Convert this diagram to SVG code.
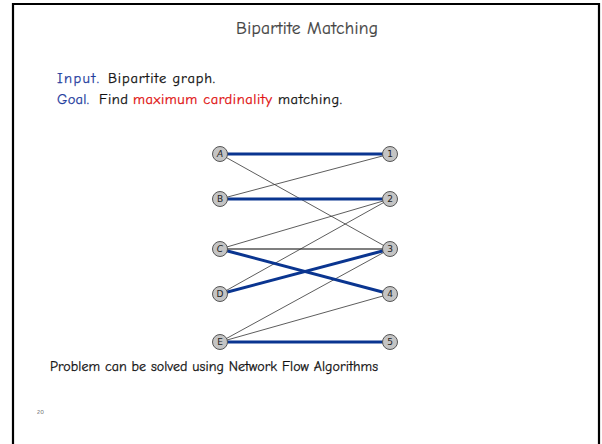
<svg xmlns="http://www.w3.org/2000/svg" width="602" height="444" viewBox="0 0 602 444">
<style>
text{font-family:"Comic Neue","Liberation Sans","DejaVu Sans",sans-serif}
.n circle{fill:#c4c4c4;stroke:#555;stroke-width:1}
.n text{font-size:9px;fill:#222;text-anchor:middle;font-family:"DejaVu Sans",sans-serif}
.thin{stroke:#333;stroke-width:0.8}
.thick{stroke:#0a3590;stroke-width:3}
.body{font-size:14.5px;fill:#111;stroke:#111;stroke-width:0.25}
.blue{fill:#1f3d9e;stroke:#1f3d9e}
.red{fill:#e01010;stroke:#e01010}
</style>
<rect width="602" height="444" fill="#fff"/>
<path d="M13,444 V4 H599 V444" fill="none" stroke="#000" stroke-width="2.2"/>
<text x="236" y="34" font-size="17.5" fill="#444" stroke="#444" stroke-width="0.2" textLength="142" lengthAdjust="spacing">Bipartite Matching</text>
<text class="body" y="83"><tspan class="blue" x="57" textLength="42">Input.</tspan><tspan x="108" textLength="107">Bipartite graph.</tspan></text>
<text class="body" y="104"><tspan class="blue" x="57" textLength="32">Goal.</tspan><tspan x="99" textLength="29">Find</tspan><tspan class="red" x="133" textLength="139">maximum cardinality</tspan><tspan x="278" textLength="64">matching.</tspan></text>
<g id="edges">
<line class="thin" x1="220" y1="154" x2="390" y2="249"/>
<line class="thin" x1="220" y1="199" x2="390" y2="154"/>
<line class="thin" x1="220" y1="249" x2="390" y2="199"/>
<line class="thin" x1="220" y1="249" x2="390" y2="249" style="stroke:#000;stroke-width:1.2"/>
<line class="thin" x1="220" y1="294" x2="390" y2="199"/>
<line class="thin" x1="220" y1="342" x2="390" y2="249"/>
<line class="thin" x1="220" y1="342" x2="390" y2="294"/>
<line class="thick" x1="220" y1="154" x2="390" y2="154"/>
<line class="thick" x1="220" y1="199" x2="390" y2="199"/>
<line class="thick" x1="220" y1="249" x2="390" y2="294"/>
<line class="thick" x1="220" y1="294" x2="390" y2="249"/>
<line class="thick" x1="220" y1="342" x2="390" y2="342"/>
</g>
<g id="A" class="n"><circle cx="220" cy="154" r="7.5"/><text x="220" y="157.3" font-style="italic">A</text></g>
<g id="B" class="n"><circle cx="220" cy="199" r="7.5"/><text x="220" y="202.3">B</text></g>
<g id="C" class="n"><circle cx="220" cy="249" r="7.5"/><text x="220" y="252.3" font-style="italic">C</text></g>
<g id="D" class="n"><circle cx="220" cy="294" r="7.5"/><text x="220" y="297.3">D</text></g>
<g id="E" class="n"><circle cx="220" cy="342" r="7.5"/><text x="220" y="345.3">E</text></g>
<g id="n1" class="n"><circle cx="390" cy="154" r="7.5"/><text x="390" y="157.3">1</text></g>
<g id="n2" class="n"><circle cx="390" cy="199" r="7.5"/><text x="390" y="202.3">2</text></g>
<g id="n3" class="n"><circle cx="390" cy="249" r="7.5"/><text x="390" y="252.3">3</text></g>
<g id="n4" class="n"><circle cx="390" cy="294" r="7.5"/><text x="390" y="297.3">4</text></g>
<g id="n5" class="n"><circle cx="390" cy="342" r="7.5"/><text x="390" y="345.3">5</text></g>
<text x="50" y="371" class="body" style="font-size:14px" textLength="328" lengthAdjust="spacing">Problem can be solved using Network Flow Algorithms</text>
<text x="37" y="414" font-size="6" fill="#333">20</text>
</svg>
